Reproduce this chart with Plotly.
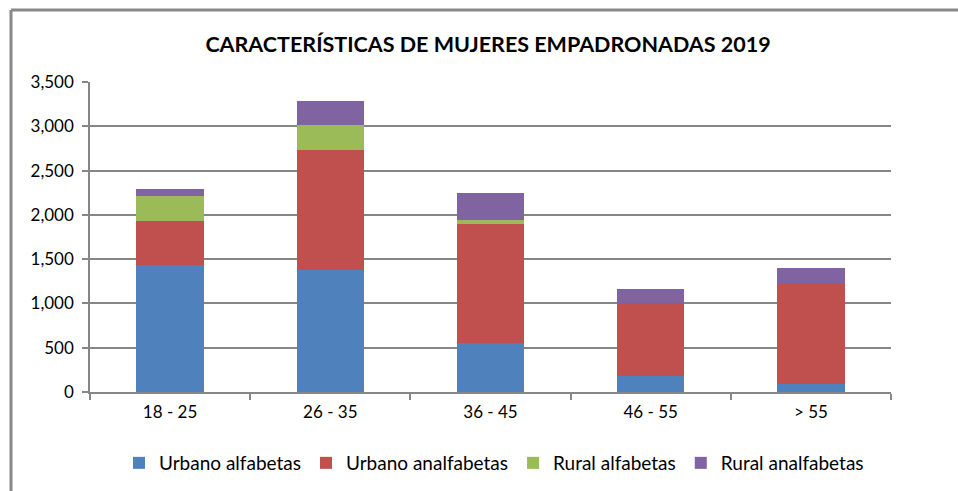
import plotly.graph_objects as go

categories = ["18 - 25", "26 - 35", "36 - 45", "46 - 55", "> 55"]
urbano_alfabetas = [1430, 1374, 550, 181, 90]
urbano_analfabetas = [504, 1362, 1343, 820, 1137]
rural_alfabetas = [283, 282, 53, 0, 0]
rural_analfabetas = [71, 271, 304, 165, 177]
y_ticks = [0, 500, 1000, 1500, 2000, 2500, 3000, 3500]

series = [
    ("Urbano alfabetas", urbano_alfabetas, "#4F81BD"),
    ("Urbano analfabetas", urbano_analfabetas, "#C0504D"),
    ("Rural alfabetas", rural_alfabetas, "#9BBB59"),
    ("Rural analfabetas", rural_analfabetas, "#8064A2"),
]

FONT = "Lato"
fig = go.Figure()
for name, vals, col in series:
    fig.add_trace(go.Bar(x=categories, y=vals, name=name,
                         marker=dict(color=col, line=dict(width=0))))

W, H = 958, 491
L, R, T, B = 90, 67, 82, 99
pw, ph = W - L - R, H - T - B

def px(x):
    return (x - L) / pw

def py(y):
    return (H - B - y) / ph

fig.update_layout(
    width=W, height=H,
    barmode="stack", bargap=0.58,
    margin=dict(l=L, r=R, t=T, b=B, autoexpand=False),
    paper_bgcolor="white", plot_bgcolor="white",
    font=dict(family=FONT, color="#000000", size=17),
    title=dict(text="<b>CARACTERÍSTICAS DE MUJERES EMPADRONADAS 2019</b>",
               x=px(488), xref="paper", xanchor="center",
               y=1 - 44 / H, yref="container", yanchor="middle",
               font=dict(family=FONT, size=21.5, color="#000000")),
    legend=dict(orientation="h", x=px(494), xanchor="center",
                y=py(463), yanchor="middle",
                font=dict(family=FONT, size=19), traceorder="normal",
                itemwidth=30),
    showlegend=True,
)
fig.update_xaxes(showline=True, linecolor="#868686", linewidth=1.5,
                 ticks="outside", tickson="boundaries", ticklen=6,
                 tickcolor="#868686", tickwidth=1.5, ticklabelstandoff=4,
                 tickfont=dict(family=FONT, size=17), showgrid=False)
fig.update_yaxes(range=[0, 3500], tickvals=y_ticks,
                 ticktext=[f"{v:,}" for v in y_ticks],
                 showline=True, linecolor="#868686", linewidth=1.5,
                 ticks="outside", ticklen=6, tickcolor="#868686", tickwidth=1.5,
                 ticklabelstandoff=5,
                 showgrid=True, gridcolor="#868686", gridwidth=1.5,
                 zeroline=False, tickfont=dict(family=FONT, size=17))

# outer chart frame (top and left lines)
fig.add_shape(type="line", xref="paper", yref="paper",
              x0=px(11), x1=px(960), y0=py(10), y1=py(10),
              line=dict(color="#888888", width=3))
fig.add_shape(type="line", xref="paper", yref="paper",
              x0=px(11), x1=px(11), y0=py(10), y1=py(495),
              line=dict(color="#888888", width=3))

fig.write_html("out.html",
               config={"displayModeBar": False},
               post_script="document.body.style.margin='0';"
                           "document.body.style.overflow='hidden';")
